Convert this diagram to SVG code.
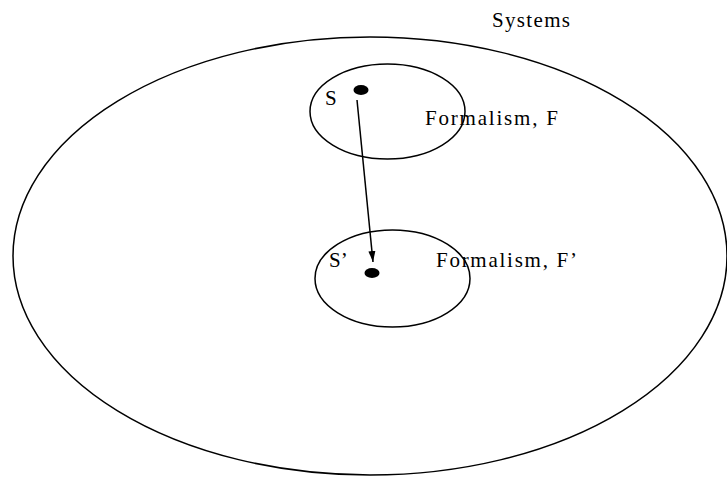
<svg xmlns="http://www.w3.org/2000/svg" width="727" height="502" viewBox="0 0 727 502">
<style>
.o{fill:none;stroke:#000;stroke-width:1.5}
.t{font-family:"Liberation Serif","Times New Roman",serif;font-size:21px;fill:#000}
</style>
<defs>
<marker id="ah" markerWidth="12" markerHeight="10" refX="11" refY="5" orient="auto" markerUnits="userSpaceOnUse">
<path d="M0,1.5 L11,5 L0,8.5 Z" fill="#000"/>
</marker>
</defs>
<rect width="727" height="502" fill="#fff"/>
<g id="systems">
<ellipse class="o" cx="370" cy="256" rx="357" ry="219"/>
<text class="t" x="492" y="27" textLength="78" lengthAdjust="spacing">Systems</text>
</g>
<g id="formalismF">
<ellipse class="o" cx="387.5" cy="111.5" rx="77.5" ry="47.5"/>
<text class="t" x="425" y="125" textLength="133" lengthAdjust="spacing">Formalism, F</text>
</g>
<g id="formalismF2">
<ellipse class="o" cx="392.5" cy="278.5" rx="77.5" ry="48.5"/>
<text class="t" x="436" y="267" textLength="141" lengthAdjust="spacing">Formalism, F’</text>
</g>
<g id="S">
<ellipse cx="361" cy="90" rx="7.5" ry="5" fill="#000"/>
<text class="t" x="325" y="105">S</text>
</g>
<g id="S2">
<ellipse cx="372" cy="273" rx="7.5" ry="5" fill="#000"/>
<text class="t" x="329" y="267">S’</text>
</g>
<g id="connectors">
<line x1="357" y1="100" x2="373" y2="262" stroke="#000" stroke-width="1.5" marker-end="url(#ah)"/>
</g>
</svg>
